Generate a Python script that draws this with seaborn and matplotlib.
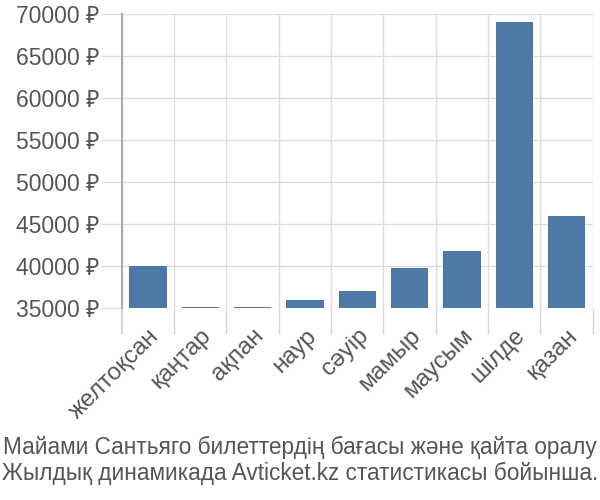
import matplotlib
matplotlib.use('Agg')
import matplotlib.pyplot as plt
import seaborn as sns
import pandas as pd
import numpy as np
from matplotlib.ticker import FixedLocator

months = ['желтоқсан', 'қаңтар', 'ақпан', 'наур', 'сәуір', 'мамыр', 'маусым', 'шілде', 'қазан']
prices = [40000, 35150, 35150, 36000, 37000, 39750, 41800, 69000, 46000]
yticks = [35000, 40000, 45000, 50000, 55000, 60000, 65000, 70000]
ytick_labels = [f'{v} ₽' for v in yticks]
caption_lines = ['Майами Сантьяго билеттердің бағасы және қайта оралу',
                 'Жылдық динамикада Avticket.kz статистикасы бойынша.']

sns.set_theme(style='white')
plt.rcParams['font.family'] = ['Liberation Sans', 'Noto Sans', 'DejaVu Sans']

fig = plt.figure(figsize=(6, 5), dpi=100)
ax = fig.add_axes([0.203, 0.384, 0.785, 0.588])
df = pd.DataFrame({'month': months, 'price': prices})
sns.barplot(data=df, x='month', y='price', color='#4e79a7', saturation=1,
            width=0.71, linewidth=0, ax=ax, zorder=3)

ax.set_ylim(35000, 70000)
ax.set_xlim(-0.5, len(months) - 0.5)
ax.set_yticks(yticks)
ax.set_yticklabels(ytick_labels)
ax.set_xticks(range(len(months)))
ax.set_xticklabels(months, rotation=45, ha='right', rotation_mode='anchor')
ax.xaxis.set_minor_locator(FixedLocator(np.arange(-0.5, len(months), 1.0)))
ax.set_xlabel('')
ax.set_ylabel('')

ax.grid(True, axis='y', which='major', color='#dddddd', linewidth=1, zorder=0)
ax.grid(True, axis='x', which='minor', color='#dddddd', linewidth=1, zorder=0)
ax.set_axisbelow(True)

ax.tick_params(axis='x', which='major', length=0, pad=12, labelsize=17.5, labelcolor='#555555')
ax.tick_params(axis='x', which='minor', length=19, width=1, color='#d6d6d6', bottom=True)
ax.tick_params(axis='y', which='major', length=15, width=1, color='#dddddd', pad=1,
               labelsize=16.5, labelcolor='#555555', left=True)
first = ax.xaxis.get_minor_ticks()[0]
first.tick1line.set_color('#aaaaaa')
first.tick1line.set_markeredgewidth(1.5)

for s in ['top', 'right', 'bottom']:
    ax.spines[s].set_visible(False)
ax.spines['left'].set_color('#aaaaaa')
ax.spines['left'].set_linewidth(1.5)

fig.text(0.5, 0.105, caption_lines[0], ha='center', va='center', fontsize=16.3, color='#555555')
fig.text(0.5, 0.053, caption_lines[1], ha='center', va='center', fontsize=16.3, color='#555555')

fig.savefig('out.png', dpi=100)
